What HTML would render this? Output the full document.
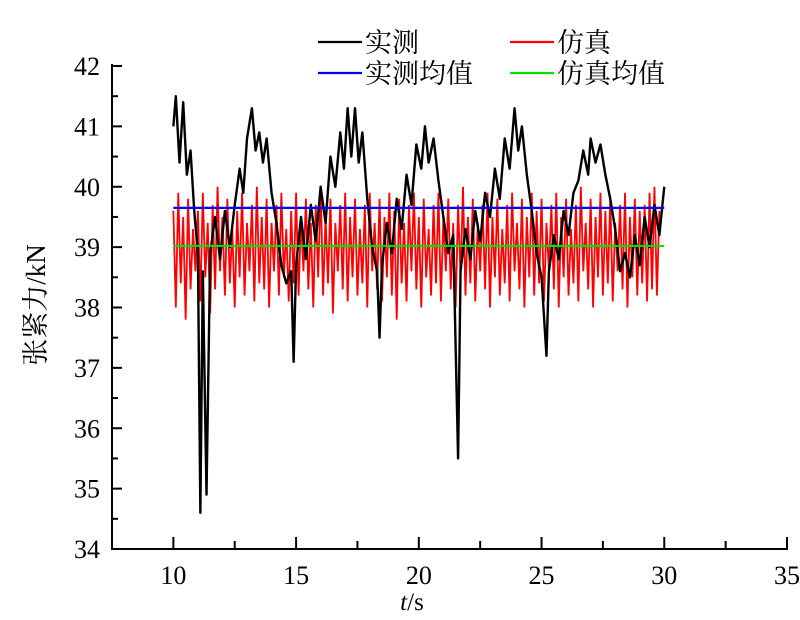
<!DOCTYPE html>
<html><head><meta charset="utf-8">
<style>
html,body{margin:0;padding:0;background:#fff;}
svg{display:block;}
text{font-family:"Liberation Serif","Noto Serif CJK SC","Noto Sans CJK SC",serif;}
</style></head>
<body>
<svg id="chart" width="800" height="620" viewBox="0 0 800 620"></svg>
<script>
const xTicks = [10, 15, 20, 25, 30, 35];
const yTicks = [34, 35, 36, 37, 38, 39, 40, 41, 42];
const measuredMean = 39.65;
const simMean = 39.02;
const measuredT = [10.0,10.1,10.25,10.4,10.55,10.7,10.85,11.0,11.1,11.2,11.35,11.5,11.7,11.9,12.1,12.3,12.5,12.7,12.85,13.0,13.2,13.35,13.5,13.65,13.8,14.0,14.2,14.4,14.6,14.8,14.9,15.0,15.2,15.4,15.6,15.8,16.0,16.2,16.4,16.6,16.8,16.95,17.1,17.25,17.4,17.55,17.7,17.9,18.1,18.3,18.4,18.5,18.7,18.9,19.1,19.3,19.5,19.7,19.9,20.1,20.25,20.4,20.6,20.8,21.0,21.2,21.4,21.6,21.7,21.9,22.1,22.3,22.5,22.7,22.9,23.1,23.3,23.5,23.7,23.9,24.05,24.2,24.4,24.6,24.8,25.0,25.2,25.3,25.5,25.7,25.9,26.1,26.3,26.5,26.7,26.9,27.0,27.2,27.4,27.6,27.8,28.0,28.2,28.4,28.6,28.8,29.0,29.2,29.4,29.6,29.8,30.0];
const measuredV = [41.0,41.5,40.4,41.4,40.2,40.6,39.6,38.9,34.6,38.6,34.9,38.9,39.5,38.8,39.6,39.0,39.7,40.3,39.9,40.8,41.3,40.6,40.9,40.4,40.8,39.9,39.4,38.7,38.4,38.6,37.1,38.7,39.5,38.8,39.7,39.1,40.0,39.4,40.5,40.0,40.9,40.3,41.3,40.5,41.3,40.4,40.9,39.8,39.0,38.6,37.5,38.7,39.4,38.9,39.8,39.3,40.2,39.7,40.7,40.3,41.0,40.4,40.8,40.1,39.5,38.9,39.2,35.5,38.6,39.3,38.8,39.6,39.1,39.9,39.5,40.3,39.8,40.8,40.3,41.3,40.6,41.0,40.2,39.6,38.9,38.5,37.2,38.6,39.2,38.8,39.6,39.2,39.9,40.1,40.6,40.2,40.8,40.4,40.7,40.2,39.8,39.3,38.6,38.9,38.5,39.2,38.7,39.5,39.0,39.7,39.2,40.0];
const simStart = 10.0, simStep = 0.1;
const simV = [39.6,38.0,39.9,38.4,39.5,37.8,39.8,38.3,39.3,38.6,39.6,38.1,39.9,38.5,39.4,37.9,39.7,38.3,40.0,38.6,39.5,38.2,39.8,38.4,39.3,38.0,39.6,38.5,39.9,38.2,39.4,38.6,39.7,38.1,40.0,38.4,39.5,38.3,39.8,38.0,39.4,38.6,39.7,38.2,39.9,38.5,39.3,38.1,39.6,38.4,39.9,38.2,39.5,38.6,39.8,38.3,39.4,38.0,39.7,38.5,40.0,38.2,39.5,38.4,39.8,37.9,39.4,38.6,39.7,38.3,39.9,38.1,39.5,38.5,39.8,38.2,39.3,38.4,39.7,38.0,39.9,38.6,39.4,38.3,39.8,38.1,39.5,38.5,39.9,38.2,39.6,37.8,39.8,38.4,39.4,38.1,39.7,38.6,39.9,38.3,39.5,38.0,39.8,38.5,39.3,38.2,39.7,38.4,39.9,38.1,39.5,38.6,39.8,38.3,39.4,38.0,39.7,38.5,40.0,38.2,39.5,38.4,39.8,38.1,39.4,38.6,39.7,38.3,39.9,38.0,39.5,38.5,39.8,38.2,39.3,38.4,39.7,38.1,39.9,38.6,39.4,38.3,39.8,38.0,39.5,38.5,39.9,38.2,39.6,38.4,39.8,38.1,39.4,38.6,39.7,38.3,39.9,38.0,39.5,38.5,39.8,38.2,39.3,38.4,39.7,38.1,40.0,38.6,39.4,38.3,39.8,38.0,39.5,38.5,39.9,38.2,39.6,38.4,39.8,38.1,39.4,38.6,39.7,38.3,39.9,38.0,39.5,38.5,39.8,38.2,39.6,38.4,39.7,38.1,39.9,38.3,40.0,38.2,39.6];

const svg = document.getElementById('chart');
const NS = 'http://www.w3.org/2000/svg';
const X0 = 7.5, X1 = 35, PX0 = 112, PX1 = 787;
const Y0 = 34, Y1 = 42, PY0 = 549, PY1 = 66;
function sx(v){ return PX0 + (v - X0) * (PX1 - PX0) / (X1 - X0); }
function sy(v){ return PY0 - (v - Y0) * (PY0 - PY1) / (Y1 - Y0); }
function mk(tag, attrs){ const e = document.createElementNS(NS, tag); for (const k in attrs) e.setAttribute(k, attrs[k]); svg.appendChild(e); return e; }

let d = '';
for (let i = 0; i < simV.length; i++) { d += (i ? 'L' : 'M') + sx(simStart + i * simStep).toFixed(2) + ',' + sy(simV[i]).toFixed(2); }
const simLine = mk('path', {d: d, fill: 'none', stroke: '#ff0000', 'stroke-width': 1.8});



d = '';
for (let i = 0; i < measuredT.length; i++) { d += (i ? 'L' : 'M') + sx(measuredT[i]).toFixed(2) + ',' + sy(measuredV[i]).toFixed(2); }
const measLine = mk('path', {d: d, fill: 'none', stroke: '#000', 'stroke-width': 2.4, 'stroke-linejoin': 'round'});



const mm = mk('line', {x1: sx(10), x2: sx(30), y1: sy(measuredMean), y2: sy(measuredMean), stroke: '#0000ff', 'stroke-width': 2.2});


const sm = mk('line', {x1: sx(10), x2: sx(30), y1: sy(simMean), y2: sy(simMean), stroke: '#00dd00', 'stroke-width': 2.2});



const ax = mk('path', {d: `M${PX0},${PY1-2}L${PX0},${PY0}L${PX1},${PY0}L${PX1},${PY0-12}`, fill: 'none', stroke: '#000', 'stroke-width': 2});


for (let v = 7.5; v <= 35.001; v += 2.5) {
  const major = Math.abs(v % 5) < 0.01;
  const t = mk('line', {x1: sx(v), x2: sx(v), y1: PY0, y2: PY0 - (major ? 12 : 8), stroke: '#000', 'stroke-width': 2});
  
  
}
for (let v = 34; v <= 42.001; v += 0.5) {
  const major = Math.abs(v % 1) < 0.01;
  const t = mk('line', {x1: PX0, x2: PX0 + (major ? 10 : 6), y1: sy(v), y2: sy(v), stroke: '#000', 'stroke-width': 2});
  
  
}
xTicks.forEach(v => {
  const t = mk('text', {x: sx(v), y: 584, 'font-size': 26, 'text-anchor': 'middle'});
  t.textContent = v;
  
  
});
yTicks.forEach(v => {
  const t = mk('text', {x: 100, y: sy(v) + 9, 'font-size': 26, 'text-anchor': 'end'});
  t.textContent = v;
  
  
});
const xt = mk('text', {x: 412, y: 610, 'font-size': 25, 'text-anchor': 'middle'});
xt.innerHTML = '<tspan font-style="italic">t</tspan>/s';


const yt = mk('text', {x: 0, y: 0, 'font-size': 27, 'text-anchor': 'middle', transform: 'translate(45,305) rotate(-90)'});
yt.textContent = '张紧力/kN';



const legend = [['实测', '#000', 318, 42], ['仿真', '#ff0000', 510, 42], ['实测均值', '#0000ff', 318, 73], ['仿真均值', '#00dd00', 510, 73]];
legend.forEach(l => {
  const g = mk('line', {x1: l[2], x2: l[2] + 44, y1: l[3], y2: l[3], stroke: l[1], 'stroke-width': 2.2});
  
  
  const t = mk('text', {x: l[2] + 47, y: l[3] + 10, 'font-size': 27});
  t.textContent = l[0];
  
  
});
</script>
</body></html>
